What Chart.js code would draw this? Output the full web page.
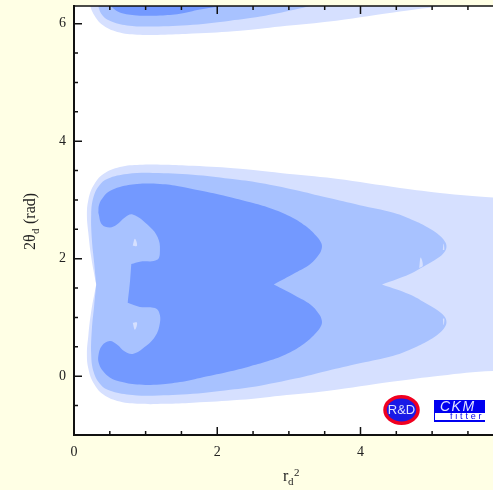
<!DOCTYPE html>
<html>
<head>
<meta charset="utf-8">
<title>CKMfitter r_d^2 vs 2theta_d</title>
<script src="https://cdn.jsdelivr.net/npm/chart.js@4"></script>
<style>
  body { margin: 0; background: #FFFFE5; }
  canvas { display: block; }
</style>
</head>
<body>
<canvas id="chart" width="493" height="490"></canvas>
<script>
// axis values
const xTicks = [0, 2, 4];
const yTicks = [0, 2, 4, 6];
const xMinorTicks = [0.5, 1, 1.5, 2.5, 3, 3.5, 4.5, 5, 5.5];
const yMinorTicks = [-0.5, 0.5, 1, 1.5, 2.5, 3, 3.5, 4.5, 5, 5.5];

// contours (r_d^2, 2theta_d), corners are listed twice to stay sharp
const darkX = [0.34, 0.35, 0.41, 0.50, 0.64, 0.88, 1.20, 1.48, 1.76, 2.14, 2.46, 2.74, 3.02, 3.23, 3.38, 3.45, 3.46, 3.42, 3.30, 3.09, 2.79, 2.79, 3.09, 3.30, 3.42, 3.46, 3.45, 3.38, 3.23, 3.02, 2.74, 2.46, 2.14, 1.76, 1.48, 1.20, 0.88, 0.64, 0.50, 0.41, 0.35, 0.34, 0.39, 0.50, 0.60, 0.71, 0.82, 0.96, 1.13, 1.20, 1.19, 1.13, 0.92, 0.75, 0.75, 0.78, 0.80, 0.80, 0.92, 1.16, 1.20, 1.17, 1.06, 0.82, 0.71, 0.60, 0.50, 0.39, 0.34];
const darkY = [2.78, 2.92, 3.05, 3.15, 3.22, 3.27, 3.27, 3.23, 3.16, 3.06, 2.96, 2.86, 2.72, 2.56, 2.39, 2.27, 2.18, 2.07, 1.91, 1.76, 1.56, 1.56, 1.37, 1.22, 1.06, 0.95, 0.86, 0.74, 0.57, 0.41, 0.27, 0.17, 0.07, -0.03, -0.10, -0.14, -0.14, -0.09, -0.02, 0.08, 0.21, 0.35, 0.52, 0.60, 0.54, 0.42, 0.38, 0.47, 0.67, 0.91, 1.08, 1.16, 1.18, 1.25, 1.25, 1.59, 1.91, 1.91, 1.95, 1.98, 2.15, 2.36, 2.54, 2.75, 2.70, 2.58, 2.53, 2.58, 2.78];
const midX = [0.31, 0.31, 0.28, 0.25, 0.24, 0.27, 0.35, 0.47, 0.74, 1.10, 1.66, 2.18, 2.60, 3.09, 3.53, 3.99, 4.46, 4.76, 4.97, 5.10, 5.18, 5.20, 5.17, 5.08, 4.90, 4.69, 4.30, 4.30, 4.69, 4.90, 5.08, 5.17, 5.20, 5.18, 5.10, 4.97, 4.76, 4.46, 3.99, 3.53, 3.09, 2.60, 2.18, 1.66, 1.10, 0.74, 0.47, 0.35, 0.27, 0.24, 0.25, 0.28, 0.31, 0.31];
const midY = [1.56, 1.56, 1.95, 2.32, 2.75, 3.04, 3.24, 3.36, 3.44, 3.46, 3.43, 3.36, 3.29, 3.17, 3.04, 2.91, 2.78, 2.64, 2.51, 2.40, 2.29, 2.20, 2.11, 2.01, 1.88, 1.74, 1.56, 1.56, 1.39, 1.25, 1.12, 1.02, 0.93, 0.84, 0.73, 0.62, 0.49, 0.35, 0.22, 0.09, -0.04, -0.16, -0.23, -0.30, -0.33, -0.31, -0.23, -0.11, 0.09, 0.38, 0.81, 1.18, 1.56, 1.56];
const outerX = [0.31, 0.31, 0.24, 0.20, 0.18, 0.20, 0.27, 0.41, 0.64, 0.92, 1.27, 1.66, 2.32, 2.88, 3.53, 4.46, 5.11, 5.85, 6.20, 6.20, 5.85, 5.11, 4.46, 3.53, 2.88, 2.32, 1.66, 1.27, 0.92, 0.64, 0.41, 0.27, 0.20, 0.18, 0.20, 0.24, 0.31, 0.31];
const outerY = [1.56, 1.56, 2.03, 2.44, 2.75, 3.00, 3.24, 3.44, 3.56, 3.60, 3.60, 3.58, 3.53, 3.46, 3.38, 3.22, 3.12, 3.04, 3.00, 0.05, 0.09, 0.01, -0.09, -0.25, -0.33, -0.40, -0.45, -0.47, -0.47, -0.43, -0.31, -0.11, 0.13, 0.38, 0.69, 1.10, 1.56, 1.56];
const darkTopX = [0.45, 0.50, 0.54, 0.64, 0.88, 1.20, 1.48, 1.76, 2.14, 2.46, 2.60, 0.45];
const darkTopY = [6.49, 6.36, 6.27, 6.19, 6.14, 6.14, 6.17, 6.24, 6.32, 6.43, 6.60, 6.49];
const midTopX = [0.30, 0.33, 0.38, 0.50, 0.74, 1.10, 1.66, 2.18, 2.60, 3.09, 3.53, 3.99, 4.20, 0.30];
const midTopY = [6.66, 6.37, 6.17, 6.05, 5.97, 5.95, 5.98, 6.05, 6.12, 6.24, 6.37, 6.49, 6.70, 6.66];
const outerTopX = [0.20, 0.27, 0.41, 0.64, 0.92, 1.27, 1.66, 2.32, 2.88, 3.53, 4.46, 5.11, 5.85, 6.20, 6.20, 0.20];
const outerTopY = [6.41, 6.17, 5.97, 5.85, 5.81, 5.81, 5.83, 5.88, 5.95, 6.03, 6.19, 6.29, 6.37, 6.40, 6.70, 6.41];
// small gaps in the contours
const gapUpX = [0.82, 0.85, 0.88, 0.82];
const gapUpY = [2.22, 2.34, 2.22, 2.22];
const gapDownX = [0.82, 0.85, 0.88, 0.82];
const gapDownY = [0.91, 0.79, 0.91, 0.91];
const spikeX = [4.82, 4.84, 4.87, 4.82];
const spikeY = [1.84, 2.02, 1.88, 1.84];
const sliverUpX = [5.15, 5.16, 5.17, 5.15];
const sliverUpY = [2.15, 2.26, 2.15, 2.15];
const sliverDownX = [5.15, 5.16, 5.17, 5.15];
const sliverDownY = [0.98, 0.87, 0.98, 0.98];

const xMin = 0, xMax = 5.85, yMin = -1, yMax = 6.3;
const darkColor = '#7399FF', midColor = '#A8C2FF', outerColor = '#D6E0FF';

function toPoints(xs, ys) {
  return xs.map((x, i) => ({ x: x, y: ys[i] }));
}

function contour(xs, ys, color) {
  return {
    data: toPoints(xs, ys),
    showLine: true,
    fill: 'shape',
    backgroundColor: color,
    borderWidth: 0,
    pointRadius: 0,
    tension: 0.4
  };
}

// white plot area, inward ticks, subscripts and the two logos
const decorations = {
  id: 'decorations',
  beforeDraw(chart) {
    const a = chart.chartArea, ctx = chart.ctx;
    ctx.save();
    ctx.fillStyle = '#FFFFE5';
    ctx.fillRect(0, 0, chart.width, chart.height);
    ctx.fillStyle = '#fff';
    ctx.fillRect(a.left, a.top, a.right - a.left, a.bottom - a.top);
    ctx.restore();
  },
  afterDraw(chart) {
    const a = chart.chartArea, ctx = chart.ctx;
    const sx = chart.scales.x, sy = chart.scales.y;
    ctx.save();
    ctx.strokeStyle = '#111';
    ctx.lineWidth = 1.5;
    ctx.beginPath();
    ctx.moveTo(a.left, a.top);
    ctx.lineTo(a.right, a.top);
    xTicks.forEach(v => tickX(ctx, sx.getPixelForValue(v), a, 8));
    xMinorTicks.forEach(v => tickX(ctx, sx.getPixelForValue(v), a, 4));
    yTicks.forEach(v => tickY(ctx, sy.getPixelForValue(v), a, 8));
    yMinorTicks.forEach(v => tickY(ctx, sy.getPixelForValue(v), a, 4));
    ctx.stroke();

    // axis titles
    ctx.fillStyle = '#222';
    ctx.textBaseline = 'alphabetic';
    ctx.textAlign = 'left';
    ctx.font = '16px "Liberation Serif"';
    ctx.fillText('r', 283, 481);
    ctx.font = '11px "Liberation Serif"';
    ctx.fillText('d', 288, 485);
    ctx.fillText('2', 294, 476);

    ctx.translate(35, 250);
    ctx.rotate(-Math.PI / 2);
    ctx.font = '16px "Liberation Serif"';
    ctx.fillText('2θ', 0, 0);
    ctx.font = '11px "Liberation Serif"';
    ctx.fillText('d', 16, 4);
    ctx.font = '16px "Liberation Serif"';
    ctx.fillText('(rad)', 26, 0);
    ctx.restore();

    // R&D logo
    ctx.save();
    ctx.beginPath();
    ctx.ellipse(401.5, 410, 16.5, 13.2, 0, 0, Math.PI * 2);
    ctx.fillStyle = '#1A1AE6';
    ctx.fill();
    ctx.lineWidth = 3.5;
    ctx.strokeStyle = '#F00020';
    ctx.stroke();
    ctx.fillStyle = '#E0E4FF';
    ctx.textAlign = 'center';
    ctx.textBaseline = 'middle';
    ctx.font = '13px "Liberation Sans"';
    ctx.fillText('R&D', 401.5, 410.5);

    // CKM fitter logo
    ctx.fillStyle = '#0000F0';
    ctx.fillRect(434, 400, 51, 13);
    ctx.fillRect(434, 400, 1, 21);
    ctx.fillRect(434, 420, 51, 2);
    ctx.textAlign = 'left';
    ctx.fillStyle = '#E0E4FF';
    ctx.font = 'italic 14px "Liberation Sans"';
    ctx.letterSpacing = '1.5px';
    ctx.fillText('CKM', 440, 407);
    ctx.fillStyle = '#0000F0';
    ctx.font = '9px "Liberation Sans"';
    ctx.letterSpacing = '2.8px';
    ctx.fillText('fitter', 450, 417);
    ctx.restore();
  }
};

function tickX(ctx, px, a, len) {
  ctx.moveTo(px, a.bottom);
  ctx.lineTo(px, a.bottom - len);
  ctx.moveTo(px, a.top);
  ctx.lineTo(px, a.top + len);
}

function tickY(ctx, py, a, len) {
  ctx.moveTo(a.left, py);
  ctx.lineTo(a.left + len, py);
}

new Chart(document.getElementById('chart').getContext('2d'), {
  type: 'scatter',
  data: {
    datasets: [
      contour(gapUpX, gapUpY, outerColor),
      contour(gapDownX, gapDownY, outerColor),
      contour(spikeX, spikeY, outerColor),
      contour(sliverUpX, sliverUpY, outerColor),
      contour(sliverDownX, sliverDownY, outerColor),
      contour(darkX, darkY, darkColor),
      contour(darkTopX, darkTopY, darkColor),
      contour(midX, midY, midColor),
      contour(midTopX, midTopY, midColor),
      contour(outerX, outerY, outerColor),
      contour(outerTopX, outerTopY, outerColor)
    ]
  },
  options: {
    responsive: false,
    animation: false,
    layout: { padding: { top: 6, right: 0, left: 0, bottom: 0 } },
    plugins: { legend: { display: false }, tooltip: { enabled: false } },
    scales: {
      x: {
        type: 'linear',
        min: xMin,
        max: xMax,
        afterBuildTicks: s => { s.ticks = xTicks.map(v => ({ value: v })); },
        afterFit: s => { s.height = 55; s.paddingLeft = 0; s.paddingRight = 0; },
        grid: { display: false, drawTicks: false },
        border: { color: '#111', width: 2 },
        ticks: { color: '#222', padding: 9, maxRotation: 0, font: { family: '"Liberation Serif"', size: 14 } }
      },
      y: {
        type: 'linear',
        min: yMin,
        max: yMax,
        afterBuildTicks: s => { s.ticks = yTicks.map(v => ({ value: v })); },
        afterFit: s => { s.width = 74; s.paddingTop = 0; s.paddingBottom = 0; },
        grid: { display: false, drawTicks: false },
        border: { color: '#111', width: 2 },
        ticks: { color: '#222', padding: 8, font: { family: '"Liberation Serif"', size: 14 } }
      }
    }
  },
  plugins: [decorations]
});
</script>
</body>
</html>
